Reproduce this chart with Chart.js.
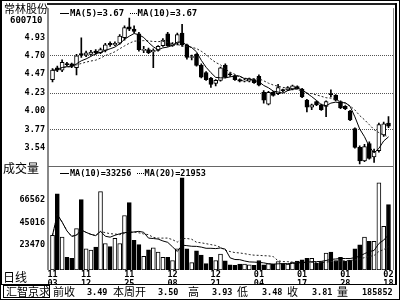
<!DOCTYPE html>
<html>
<head>
<meta charset="utf-8">
<script src="https://cdn.jsdelivr.net/npm/chart.js@4.4.1/dist/chart.umd.min.js"></script>
<style>
body { margin: 0; background: #fff; }
#wrap { position: relative; width: 400px; height: 300px; overflow: hidden; background: #fff; }
#wrap canvas { position: absolute; left: 0; top: 0; }
.t { position: absolute; white-space: nowrap; color: #000; line-height: 1; }
.cn { font-family: "Noto Sans CJK SC"; font-size: 11px; }
.num { font-family: "DejaVu Sans Mono"; font-weight: bold; font-size: 8.5px; }
.box { position: absolute; box-sizing: border-box; }
.ln { display: inline-block; width: 9px; height: 0; vertical-align: middle; margin-right: 1px; }
</style>
</head>
<body>
<div id="wrap">
  <canvas id="myChart" width="400" height="300"></canvas>

  <!-- frame -->
  <div class="box" style="left:0;top:0;width:400px;height:300px;border:1px solid #000;border-left-width:2px;"></div>
  <div class="box" style="left:47px;top:3px;width:350px;height:2px;background:#222;"></div>
  <div class="box" style="left:395px;top:3px;width:2px;height:281px;background:#000;"></div>

  <div class="t cn" style="left:4px;top:3px;">常林股份</div>
  <div class="t num" style="left:10px;top:16px;font-size:9px;">600710</div>
  <div class="t num" style="left:60px;top:9px;font-size:9px;"><span class="ln" style="border-top:1px solid #000;"></span>MA(5)=3.67 <span class="ln" style="border-top:1px dotted #000;width:7px;"></span>MA(10)=3.67</div>

  <div class="t cn" style="left:3px;top:162px;font-size:12px;">成交量</div>
  <div class="t num" style="left:60px;top:169px;"><span class="ln" style="border-top:1px solid #000;"></span>MA(10)=33256 <span class="ln" style="border-top:1px dotted #000;width:7px;"></span>MA(20)=21953</div>

  <div class="t cn" style="left:3px;top:271px;font-size:12px;">日线</div>

  <!-- status bar -->
  <div class="box" style="left:1px;top:284px;width:396px;height:15px;border-top:1px solid #000;background:#fff;"></div>
  <div class="box" style="left:3px;top:285px;width:47px;height:13px;border:1px solid #000;"></div>
  <div class="t cn" style="left:6px;top:286px;">汇智京求</div>
  <div class="t cn" style="left:53px;top:286px;">前收</div>
  <div class="t num" style="left:87px;top:288px;">3.49</div>
  <div class="t cn" style="left:113px;top:286px;">本周开</div>
  <div class="t num" style="left:158px;top:288px;">3.50</div>
  <div class="t cn" style="left:188px;top:286px;">高</div>
  <div class="t num" style="left:212px;top:288px;">3.93</div>
  <div class="t cn" style="left:237px;top:286px;">低</div>
  <div class="t num" style="left:262px;top:288px;">3.48</div>
  <div class="t cn" style="left:287px;top:286px;">收</div>
  <div class="t num" style="left:312px;top:288px;">3.81</div>
  <div class="t cn" style="left:337px;top:286px;">量</div>
  <div class="t num" style="left:362px;top:288px;">185852</div>
</div>

<script>
// 常林股份 600710 日线

// date labels under the volume panel
const dateIdx = [0, 7, 16, 25, 34, 43, 52, 61, 70];
const dates = [['11','03'], ['11','12'], ['11','25'], ['12','08'], ['12','21'], ['01','04'], ['01','17'], ['01','28'], ['02','18']];

// OHLC
const open  = [4.40, 4.55, 4.52, 4.60, 4.60, 4.55, 4.73, 4.71, 4.72, 4.76,
               4.74, 4.77, 4.86, 4.84, 4.86, 4.93, 5.07, 5.04, 4.98, 4.77,
               4.78, 4.75, 4.77, 4.83, 4.98, 4.83, 4.86, 4.99, 4.84, 4.68,
               4.72, 4.58, 4.49, 4.42, 4.35, 4.39, 4.58, 4.47, 4.45, 4.40,
               4.38, 4.38, 4.40, 4.44, 4.24, 4.09, 4.24, 4.22, 4.27, 4.27,
               4.28, 4.31, 4.28, 4.14, 4.05, 4.12, 4.08, 4.06, 4.22, 4.20,
               4.12, 4.06, 4.00, 3.78, 3.54, 3.37, 3.59, 3.42, 3.50, 3.70,
               3.85];
const high  = [4.54, 4.57, 4.65, 4.62, 4.61, 4.72, 4.93, 4.76, 4.77, 4.78,
               4.80, 4.86, 4.88, 4.88, 4.97, 5.08, 5.18, 5.08, 5.00, 4.82,
               4.80, 4.79, 4.83, 4.92, 5.00, 4.87, 4.99, 5.10, 4.85, 4.71,
               4.73, 4.60, 4.50, 4.43, 4.40, 4.56, 4.60, 4.49, 4.46, 4.41,
               4.41, 4.42, 4.41, 4.46, 4.26, 4.25, 4.25, 4.34, 4.28, 4.31,
               4.33, 4.32, 4.29, 4.15, 4.09, 4.13, 4.09, 4.13, 4.27, 4.21,
               4.13, 4.07, 4.01, 3.79, 3.56, 3.58, 3.61, 3.52, 3.85, 3.86,
               3.93];
const low   = [4.37, 4.50, 4.50, 4.57, 4.55, 4.46, 4.68, 4.69, 4.71, 4.72,
               4.73, 4.75, 4.82, 4.83, 4.85, 4.90, 5.02, 4.99, 4.76, 4.74,
               4.73, 4.55, 4.76, 4.82, 4.82, 4.82, 4.84, 4.82, 4.66, 4.65,
               4.57, 4.42, 4.39, 4.30, 4.32, 4.38, 4.42, 4.44, 4.39, 4.37,
               4.37, 4.37, 4.35, 4.32, 4.10, 4.08, 4.19, 4.21, 4.24, 4.26,
               4.27, 4.28, 4.17, 3.99, 4.02, 4.07, 4.01, 3.93, 4.18, 4.13,
               4.03, 4.02, 3.88, 3.53, 3.33, 3.36, 3.39, 3.35, 3.48, 3.68,
               3.79];
const close = [4.52, 4.52, 4.62, 4.59, 4.57, 4.70, 4.71, 4.74, 4.75, 4.74,
               4.78, 4.84, 4.84, 4.86, 4.95, 5.06, 5.04, 5.01, 4.78, 4.78,
               4.74, 4.77, 4.82, 4.90, 4.83, 4.85, 4.97, 4.84, 4.68, 4.69,
               4.58, 4.43, 4.40, 4.34, 4.39, 4.55, 4.43, 4.46, 4.40, 4.38,
               4.39, 4.41, 4.36, 4.33, 4.14, 4.24, 4.20, 4.30, 4.26, 4.30,
               4.32, 4.29, 4.18, 4.05, 4.08, 4.08, 4.02, 4.12, 4.21, 4.14,
               4.04, 4.03, 3.89, 3.54, 3.37, 3.55, 3.40, 3.49, 3.83, 3.84,
               3.81];
const volume = [32800, 72000, 31000, 12000, 11000, 39000, 66500, 20000, 18700, 21700,
                74000, 25000, 22000, 30000, 25000, 51500, 63700, 28000, 24000, 13000,
                19000, 21000, 17000, 12000, 12000, 9000, 20000, 87100, 20000, 7000,
                18000, 14000, 6000, 12000, 9000, 15000, 8700, 5000, 4400, 5600,
                5600, 5000, 4400, 9000, 5000, 6000, 5500, 8000, 6000, 5600,
                7500, 8500, 9500, 11000, 11000, 6500, 8000, 16000, 17000, 9000,
                12000, 8400, 9400, 20000, 23700, 31000, 27000, 27000, 82400, 41200,
                61800];

const priceTicks = [4.93, 4.70, 4.47, 4.23, 4.00, 3.77, 3.54];
const priceGrid = [4.70, 4.23, 3.77];
const volTicks = [66562, 45016, 23470];

function ma(arr, n) {
    return arr.map((v, i) => {
        const s = arr.slice(Math.max(0, i - n + 1), i + 1);
        return s.reduce((a, b) => a + b, 0) / s.length;
    });
}
const pts = arr => arr.map((v, i) => ({x: i, y: v}));

const up = close.map((c, i) => c >= open[i]);
const fills = up.map(u => u ? '#fff' : '#000');
const mono = 'DejaVu Sans Mono';

// panel borders
const frame = {
    id: 'frame',
    afterDraw(chart) {
        const {ctx, chartArea: a, scales} = chart;
        const sep = Math.round(scales.yP.bottom);
        ctx.save();
        ctx.fillStyle = '#888';
        ctx.fillRect(a.left - 1, a.top, 2, a.bottom - a.top);
        ctx.fillStyle = '#666';
        ctx.fillRect(a.left, sep, a.right - a.left, 1);
        ctx.fillStyle = '#888';
        ctx.fillRect(a.right, a.top, 1, a.bottom - a.top);
        ctx.restore();
    }
};

const ctx = document.getElementById('myChart').getContext('2d');

const config = {
    type: 'bar',
    data: {
        datasets: [
            { type: 'line', data: pts(ma(close, 5)), yAxisID: 'yP', borderColor: '#000', borderWidth: 1, pointRadius: 0, order: 0 },
            { type: 'line', data: pts(ma(close, 10)), yAxisID: 'yP', borderColor: '#222', borderWidth: 1, borderDash: [2, 2], pointRadius: 0, order: 0 },
            { data: open.map((o, i) => ({x: i, y: [o, close[i]]})), yAxisID: 'yP',
              backgroundColor: fills, borderColor: '#000', borderWidth: 1, borderSkipped: false,
              barThickness: 4, minBarLength: 1, grouped: false, order: 1 },
            { data: low.map((l, i) => ({x: i, y: [l, high[i]]})), yAxisID: 'yP',
              backgroundColor: '#000', borderWidth: 0, barThickness: 1, grouped: false, order: 2 },
            { data: pts(volume), yAxisID: 'yV',
              backgroundColor: fills, borderColor: '#000', borderWidth: 1, borderSkipped: false,
              barThickness: 4, grouped: false, order: 1 },
            { type: 'line', data: pts(ma(volume, 10)), yAxisID: 'yV', borderColor: '#000', borderWidth: 1, pointRadius: 0, order: 0 },
            { type: 'line', data: pts(ma(volume, 20)), yAxisID: 'yV', borderColor: '#222', borderWidth: 1, borderDash: [2, 2], pointRadius: 0, order: 0 }
        ]
    },
    options: {
        responsive: false,
        animation: false,
        events: [],
        layout: { padding: { top: 5, right: 7, left: 0, bottom: 0 } },
        plugins: { legend: { display: false }, tooltip: { enabled: false } },
        scales: {
            x: {
                type: 'linear',
                offset: false,
                min: -0.94,
                max: 70.94,
                grid: { display: false, drawTicks: false },
                border: { display: false },
                afterBuildTicks: s => { s.ticks = dateIdx.map(v => ({value: v})); },
                afterFit: s => { s.height = 30; },
                ticks: {
                    autoSkip: false,
                    maxRotation: 0,
                    padding: 1,
                    color: '#000',
                    font: { family: mono, size: 8.5, weight: 'bold', lineHeight: 1 },
                    callback: v => dates[dateIdx.indexOf(v)] || ''
                }
            },
            yP: {
                type: 'linear',
                position: 'left',
                stack: 'k',
                stackWeight: 160,
                weight: 2,
                min: 3.302,
                max: 5.306,
                afterBuildTicks: s => { s.ticks = priceTicks.map(v => ({value: v})); },
                afterFit: s => { s.width = 48; },
                grid: {
                    drawTicks: false,
                    color: c => (c.tick && priceGrid.includes(c.tick.value)) ? '#555' : 'rgba(0,0,0,0)'
                },
                border: { display: false, dash: [1, 1] },
                ticks: {
                    padding: 3,
                    color: '#000',
                    font: { family: mono, size: 8.5, weight: 'bold' },
                    callback: v => v.toFixed(2)
                }
            },
            yV: {
                type: 'linear',
                position: 'left',
                stack: 'k',
                stackWeight: 105,
                weight: 1,
                min: 0,
                max: 98000,
                afterBuildTicks: s => { s.ticks = volTicks.map(v => ({value: v})); },
                afterFit: s => { s.width = 48; },
                grid: { display: false, drawTicks: false },
                border: { display: false },
                ticks: {
                    padding: 3,
                    color: '#000',
                    font: { family: mono, size: 8.5, weight: 'bold' },
                    callback: v => String(v)
                }
            }
        }
    },
    plugins: [frame]
};

const myChart = new Chart(ctx, config);
</script>
</body>
</html>
